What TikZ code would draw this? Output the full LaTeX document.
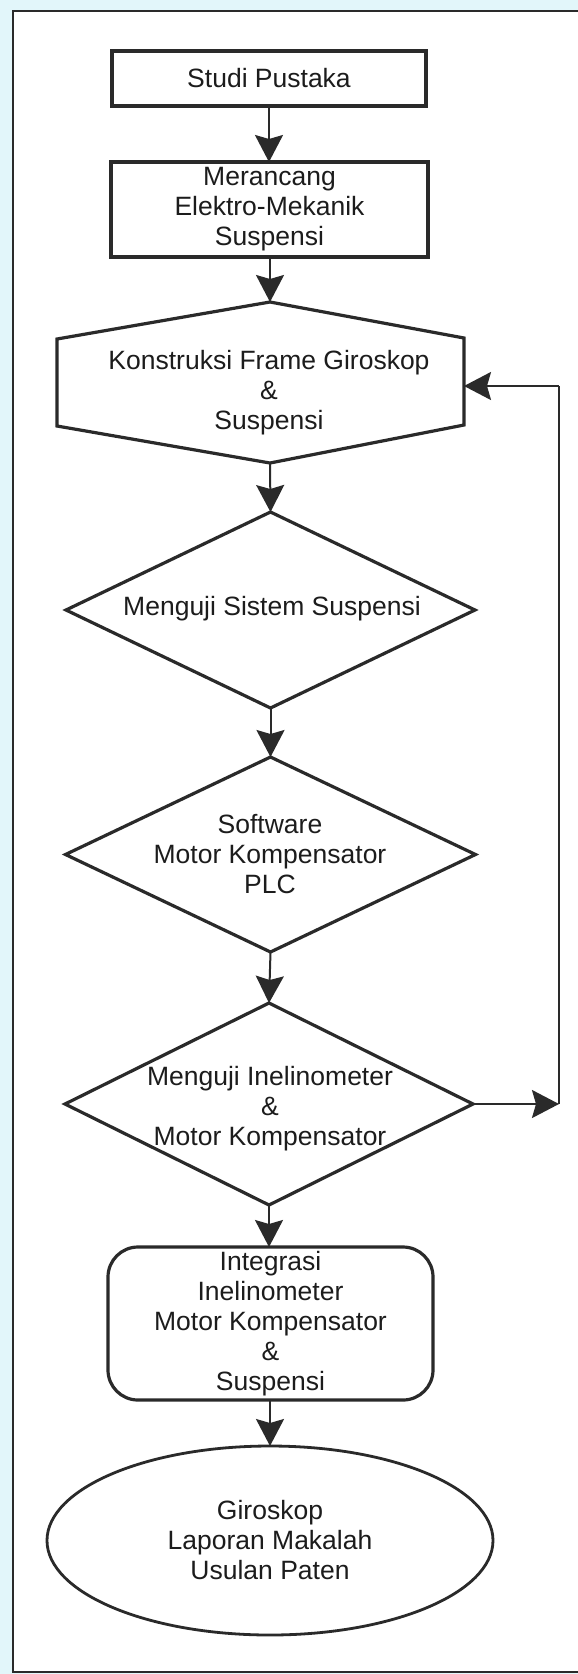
\documentclass[tikz,border=0pt]{standalone}
\usepackage{fontspec}
\setmainfont{Liberation Sans}
\usetikzlibrary{shapes.geometric, arrows.meta}

\definecolor{bgblue}{RGB}{226,246,250}
\definecolor{ink}{RGB}{42,42,42}
\definecolor{txt}{RGB}{28,28,28}

\newcommand\flowfont{\fontsize{26.5}{30}\selectfont}

\tikzset{
  outline/.style={draw=ink, line width=3.2pt, line join=miter, fill=white},
  shapebase/.style={outline, outer sep=0pt, inner sep=0pt, text=txt, align=center, font=\flowfont},
  procbox/.style={shapebase, rectangle},
  roundbox/.style={shapebase, rectangle, rounded corners=30pt},
  decision/.style={shapebase, diamond},
  terminal/.style={shapebase, ellipse, line width=2.8pt},
  caption/.style={inner sep=0pt, text=txt, align=center, font=\flowfont},
  conn/.style={draw=ink, line width=2pt, -{Stealth[length=27pt, width=28pt, inset=4pt]}},
  loopline/.style={draw=ink, line width=2pt},
}

\begin{document}
\begin{tikzpicture}[x=1pt, y=-1pt]
  % page and frame
  \useasboundingbox (0,0) rectangle (578,1674);
  \fill[bgblue] (0,0) rectangle (578,1674);
  \fill[white] (12.5,11) rectangle (600,1672);
  \draw[ink, line width=2pt] (600,11) -- (12.5,11) -- (12.5,1672) -- (600,1672);

  % process steps
  \node[procbox, minimum width=314pt, minimum height=55pt] (studi) at (269,78.5) {Studi Pustaka};
  \node[procbox, minimum width=317pt, minimum height=95pt] (rancang) at (269.5,209.5)
    {Merancang\\Elektro-Mekanik\\Suspensi};

  % construction step (hexagon)
  \coordinate (hexTop) at (270,302);
  \coordinate (hexBot) at (270,463);
  \coordinate (hexR) at (464,386);
  \draw[outline] (57,339) -- (hexTop) -- (464,338) -- (464,425) -- (hexBot) -- (57,426) -- cycle;
  \node[caption] (konstruksi) at (269,393) {Konstruksi Frame Giroskop\\\&\\Suspensi};

  % decisions
  \node[decision, minimum width=409pt, minimum height=196pt] (uji1) at (270.5,610) {};
  \node[caption] (uji1t) at (272,609) {Menguji Sistem Suspensi};

  \node[decision, minimum width=410pt, minimum height=195pt] (soft) at (270.5,854.5) {};
  \node[caption] (softt) at (270,854) {Software\\Motor Kompensator\\PLC};

  \node[decision, minimum width=408pt, minimum height=202pt] (uji2) at (269,1104) {};
  \node[caption] (uji2t) at (270,1109) {Menguji Inelinometer\\\&\\Motor Kompensator};

  % integration and result
  \node[roundbox, minimum width=325pt, minimum height=153pt] (integ) at (270.5,1323.5)
    {Integrasi\\Inelinometer\\Motor Kompensator\\\&\\Suspensi};
  \node[terminal, minimum width=446pt, minimum height=189pt] (hasil) at (270,1540.5)
    {Giroskop\\Laporan Makalah\\Usulan Paten};

  % main flow
  \draw[conn] (studi.south) -- (studi.south |- rancang.north);
  \draw[conn] (rancang.south -| hexTop) -- (hexTop);
  \draw[conn] (hexBot) -- (uji1.north);
  \draw[conn] (uji1.south) -- (soft.north);
  \draw[conn] (soft.south) -- (uji2.north);
  \draw[conn] (uji2.south) -- (integ.north -| uji2.south);
  \draw[conn] (integ.south -| hasil.north) -- (hasil.north);

  % feedback loop back to construction
  \coordinate (loopB) at (559,1104);
  \coordinate (loopT) at (559,386);
  \draw[conn] (uji2.east) -- (loopB);
  \draw[loopline] (loopB) -- (loopT);
  \draw[conn] (loopT) -- (hexR);
\end{tikzpicture}
\end{document}
